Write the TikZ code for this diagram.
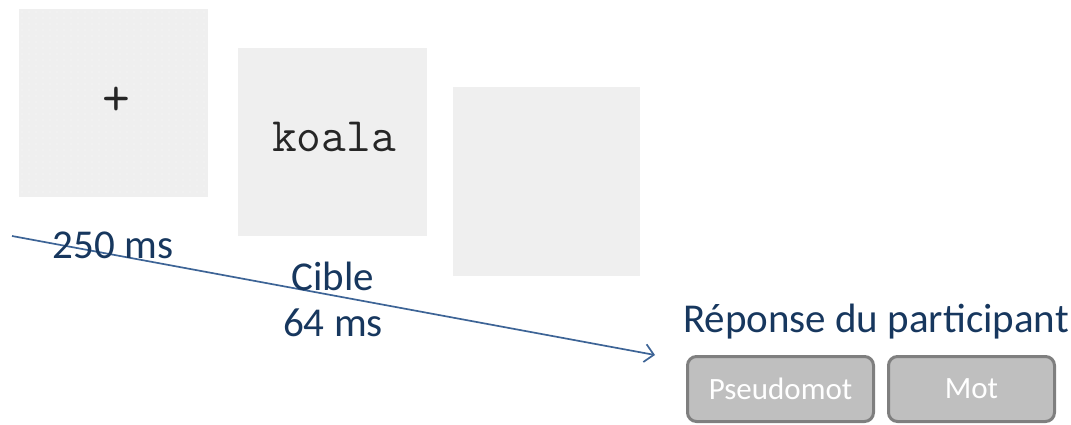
\documentclass[tikz,border=0pt]{standalone}
\usepackage{fontspec}
\setmainfont{Carlito}
\usetikzlibrary{arrows.meta}
\definecolor{panel}{HTML}{EFEFEF}
\definecolor{txtblue}{HTML}{17375E}
\definecolor{arrblue}{HTML}{3D6496}
\definecolor{btnfill}{HTML}{BFBFBF}
\definecolor{btnline}{HTML}{7F7F7F}
\tikzset{
  screen/.style={fill=panel, draw=none},
  lbl/.style={text=txtblue, font=\fontsize{41}{45}\selectfont, inner sep=0pt},
  btn/.style={fill=btnfill, draw=btnline, line width=3pt, rounded corners=9pt,
    text=white, font=\fontsize{31}{34}\selectfont, inner sep=0pt,
    minimum height=65pt},
}
\begin{document}
\begin{tikzpicture}[x=1pt,y=-1pt]
\useasboundingbox (0,0) rectangle (1071,425);
% screens
\path[screen] (19,9) rectangle (208,197);
\foreach \i in {0,...,26}{\foreach \j in {0,...,30}{
  \fill[white,opacity=0.8] (22+\i*7,12+\j*6) circle (0.7);}}
\path[screen] (238,48) rectangle (427,236);
\path[screen] (453,87) rectangle (640,276);
\node[inner sep=0pt, text=black!85, font=\ttfamily\fontsize{54}{56}\selectfont] (plus) at (116,101) {+};
\node[inner sep=0pt, text=black!85, font=\ttfamily\fontsize{48}{52}\selectfont] (koala) at (334,137) {koala};
% arrow
\coordinate (a0) at (12,236);
\coordinate (a1) at (655,355);
\draw[arrblue, line width=1.7pt, -{Straight Barb[length=9pt,width=18pt,line width=1.7pt]}] (a0) -- (a1);
% labels
\node[lbl] (t250) at (113,245) {250 ms};
\node[lbl] (cible) at (333,276) {Cible};
\node[lbl] (t64) at (333,323) {64 ms};
\node[lbl] (rep) at (876,322) {Réponse du participant};
% buttons
\node[btn, minimum width=186pt] (pseudo) at (780.5,389) {Pseudomot};
\node[btn, minimum width=166pt] (mot) at (971.5,389) {Mot};
\end{tikzpicture}
\end{document}
